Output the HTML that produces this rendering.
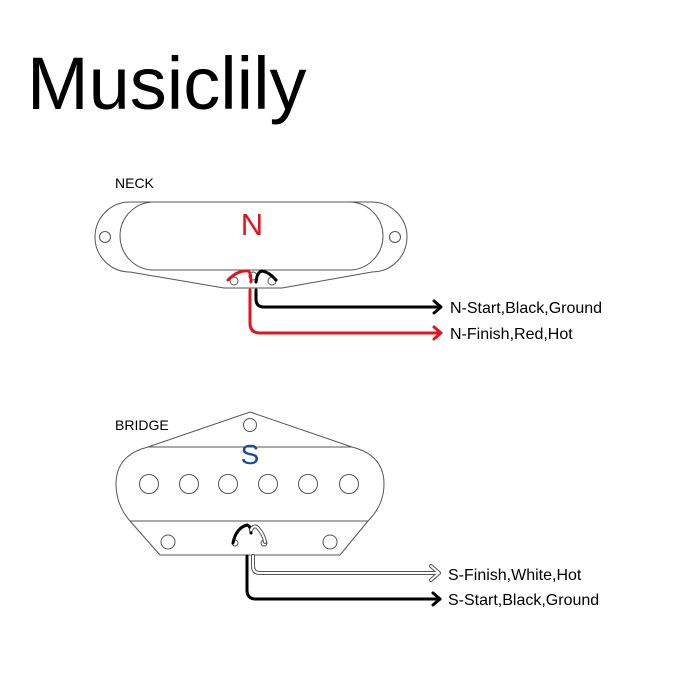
<!DOCTYPE html>
<html><head><style>body{margin:0;background:#fff}svg{display:block}</style></head><body>
<svg width="700" height="700" viewBox="0 0 700 700" xmlns="http://www.w3.org/2000/svg" font-family="Liberation Sans, Arial, sans-serif">
<rect width="700" height="700" fill="#fff"/>
<text x="27" y="109" font-size="74">Musiclily</text>
<text x="115" y="188" font-size="14">NECK</text>
<g fill="none" stroke="#555" stroke-width="1">
<path d="M130 202 H372 A35 35 0 0 1 372 272 L282 288 H224 L130 272 A35 35 0 0 1 130 202 Z"/>
<rect x="120" y="202" width="263" height="68" rx="34"/>
<circle cx="105" cy="237" r="5.5"/>
<circle cx="395" cy="237" r="5.5"/>
<circle cx="234" cy="281" r="4"/>
<circle cx="253" cy="276" r="4"/>
<circle cx="272" cy="281" r="4"/>
</g>
<text x="252" y="235" font-size="31" fill="#e0161e" text-anchor="middle">N</text>
<g fill="none" stroke-width="3" stroke-linecap="round" stroke-linejoin="round">
<path d="M228 280 Q238 270 248 271 Q251 272 251 282" stroke="#e0161e"/>
<path d="M256 282 Q257 272 262 271 Q269 272 276 280" stroke="#000"/>
<path d="M250 290 V323 Q250 333 260 333 H440" stroke="#e0161e"/>
<path d="M434 327 L441 333 L434 339" stroke="#e0161e"/>
<path d="M256 290 V299 Q256 307 264 307 H440" stroke="#000"/>
<path d="M434 301 L441 307 L434 313" stroke="#000"/>
</g>
<text x="450" y="313" font-size="16">N-Start,Black,Ground</text>
<text x="450" y="339" font-size="16">N-Finish,Red,Hot</text>

<text x="115" y="430" font-size="14">BRIDGE</text>
<g fill="none" stroke="#555" stroke-width="1">
<path d="M148 447 L250 412 L352 447"/>
<path d="M148 447 H352 Q384 455 384 484 Q384 505 368 521 L340 555 H160 L130 521 Q116 505 116 484 Q116 455 148 447 Z"/>
<path d="M130 521 H368"/>
<circle cx="250" cy="425" r="6.5"/>
<circle cx="149" cy="484" r="9.5"/>
<circle cx="189" cy="484" r="9.5"/>
<circle cx="228" cy="484" r="9.5"/>
<circle cx="268" cy="484" r="9.5"/>
<circle cx="308" cy="484" r="9.5"/>
<circle cx="349" cy="484" r="9.5"/>
<circle cx="168" cy="542" r="7"/>
<circle cx="330" cy="542" r="7"/>
<circle cx="235" cy="543" r="3"/>
<circle cx="264" cy="543" r="3"/>
</g>
<text x="250" y="464" font-size="28" fill="#1a4aa0" text-anchor="middle">S</text>
<g fill="none" stroke-linecap="round" stroke-linejoin="round">
<path d="M233 543 Q236 528 247 525 Q251 526 251 533" stroke="#000" stroke-width="3"/>
<path d="M251 530 Q254 524 258 528 Q264 535 265 542" stroke="#555" stroke-width="4"/>
<path d="M251 530 Q254 524 258 528 Q264 535 265 542" stroke="#fff" stroke-width="2"/>
<path d="M253 556 V566 Q253 573 260 573 H438" stroke="#555" stroke-width="4"/>
<path d="M431 566 L439 573 L431 580" stroke="#555" stroke-width="4"/>
<path d="M253 556 V566 Q253 573 260 573 H438" stroke="#fff" stroke-width="2"/>
<path d="M431 566 L439 573 L431 580" stroke="#fff" stroke-width="2"/>
<path d="M247 556 V590 Q247 599 256 599 H440" stroke="#000" stroke-width="3"/>
<path d="M433 593 L440 599 L433 605" stroke="#000" stroke-width="3"/>
</g>
<text x="448" y="580" font-size="16">S-Finish,White,Hot</text>
<text x="448" y="605" font-size="16">S-Start,Black,Ground</text>
</svg>
</body></html>
